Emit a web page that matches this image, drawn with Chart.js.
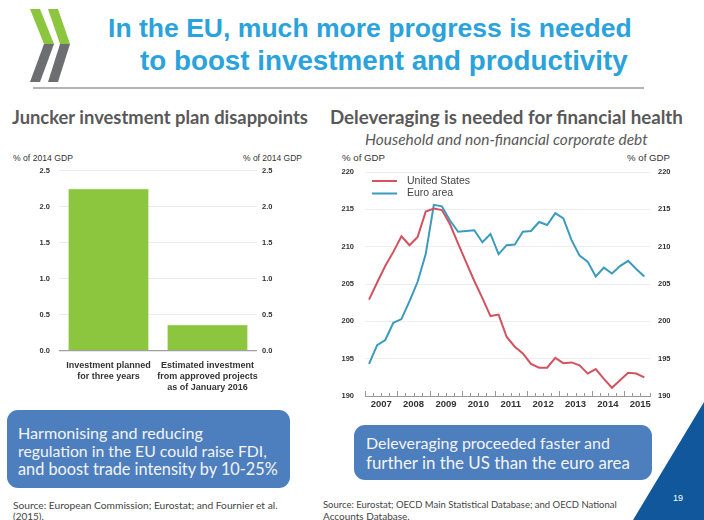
<!DOCTYPE html>
<html>
<head>
<meta charset="utf-8">
<script src="https://cdn.jsdelivr.net/npm/chart.js@4.4.1/dist/chart.umd.min.js"></script>
<style>
  html, body { margin: 0; padding: 0; background: #fff; }
  body { width: 704px; height: 520px; position: relative; overflow: hidden; font-family: 'Liberation Sans', Arial, sans-serif; }
  .t { position: absolute; white-space: nowrap; line-height: 1; transform: translateY(-50%); }
  .title { color: #2aa3dc; font-weight: bold; font-family: 'Liberation Sans', Arial, sans-serif; }
  .sub { color: #595959; font-weight: bold; font-family: Lato, 'Open Sans', sans-serif; }
  .ital { color: #595959; font-style: italic; font-family: Lato, 'Open Sans', sans-serif; }
  .axt { color: #333; font-size: 8.5px; }
  .box { position: absolute; background: #4d7fbf; border-radius: 11px; }
  .boxt { color: #f4f4f4; font-family: Lato, 'Open Sans', sans-serif; }
  .src { color: #444; font-family: Lato, 'Open Sans', sans-serif; }
  canvas { position: absolute; }
</style>
</head>
<body>

<svg style="position:absolute;left:0;top:0" width="704" height="520">
  <polygon points="30,9 40,9 54,44 44,44" fill="#8cc63f"/>
  <polygon points="44,44 54,44 40,82 30,82" fill="#6d6e71"/>
  <polygon points="48,9 58,9 70,44 60,44" fill="#8cc63f"/>
  <polygon points="60,44 70,44 58,82 48,82" fill="#6d6e71"/>
  <line x1="33" y1="88" x2="644" y2="88" stroke="#9a9a9a" stroke-width="1.5"/>
  <polygon points="704,402 704,520 633,520" fill="#10579b"/>
</svg>

<div class="t title" data-fit="524" style="left:108px;top:28px;font-size:26px">In the EU, much more progress is needed</div>
<div class="t title" data-fit="488" style="left:140px;top:61px;font-size:26px">to boost investment and productivity</div>

<div class="t sub" data-fit="296" style="left:12px;top:117px;font-size:16px">Juncker investment plan disappoints</div>
<div class="t sub" data-fit="353" style="left:330px;top:117px;font-size:16px">Deleveraging is needed for financial health</div>
<div class="t ital" data-fit="283" style="left:365px;top:140px;font-size:12px">Household and non-financial corporate debt</div>

<div class="t axt" data-fit="60" style="left:13px;top:158px">% of 2014 GDP</div>
<div class="t axt" data-fit="59" style="left:243px;top:158px">% of 2014 GDP</div>
<div class="t axt" data-fit="43" style="left:342px;top:158px">% of GDP</div>
<div class="t axt" data-fit="43" style="left:627px;top:158px">% of GDP</div>

<canvas id="barChart" width="320" height="250" style="left:0;top:150px"></canvas>
<canvas id="debtChart" width="374" height="270" style="left:330px;top:150px"></canvas>

<div class="box" style="left:7px;top:410px;width:283px;height:78px"></div>
<div class="t boxt" data-fit="185" style="left:18px;top:433px;font-size:17px">Harmonising and reducing</div>
<div class="t boxt" data-fit="249" style="left:18px;top:451px;font-size:17px">regulation in the EU could raise FDI,</div>
<div class="t boxt" data-fit="260" style="left:18px;top:469px;font-size:17px">and boost trade intensity by 10-25%</div>

<div class="box" style="left:354px;top:425px;width:298px;height:55px"></div>
<div class="t boxt" data-fit="244" style="left:366px;top:443px;font-size:18px">Deleveraging proceeded faster and</div>
<div class="t boxt" data-fit="264" style="left:366px;top:463px;font-size:18px">further in the US than the euro area</div>

<div class="t src" data-fit="265" style="left:13px;top:505px;font-size:10px">Source: European Commission; Eurostat; and Fournier et al.</div>
<div class="t src" style="left:13px;top:516px;font-size:10px">(2015).</div>
<div class="t src" data-fit="294" style="left:323px;top:505px;font-size:10px">Source: Eurostat; OECD Main Statistical Database; and OECD National</div>
<div class="t src" style="left:323px;top:516px;font-size:10px">Accounts Database.</div>
<div class="t" style="left:673px;top:498px;font-size:9px;color:#fff">19</div>

<script>
// left chart: Juncker plan
const barCategories = [
    ['Investment planned', 'for three years'],
    ['Estimated investment', 'from approved projects', 'as of January 2016']
];
const barValues = [2.25, 0.36];

// right chart: household and non-financial corporate debt, quarterly
const quarters = [
    '2007Q1', '2007Q2', '2007Q3', '2007Q4', '2008Q1', '2008Q2', '2008Q3', '2008Q4',
    '2009Q1', '2009Q2', '2009Q3', '2009Q4', '2010Q1', '2010Q2', '2010Q3', '2010Q4',
    '2011Q1', '2011Q2', '2011Q3', '2011Q4', '2012Q1', '2012Q2', '2012Q3', '2012Q4',
    '2013Q1', '2013Q2', '2013Q3', '2013Q4', '2014Q1', '2014Q2', '2014Q3', '2014Q4',
    '2015Q1', '2015Q2', '2015Q3'
];
const usDebt = [
    202.9, 205.2, 207.4, 209.3, 211.4, 210.2, 211.3, 214.7,
    215.1, 214.9, 213.0, 210.4, 207.9, 205.4, 203.1, 200.7,
    200.9, 197.9, 196.6, 195.7, 194.3, 193.8, 193.8, 195.1,
    194.4, 194.5, 194.1, 193.0, 193.6, 192.3, 191.1, 192.1,
    193.1, 193.0, 192.5
];
const euroDebt = [
    194.3, 196.8, 197.5, 199.8, 200.3, 202.7, 205.3, 209.0,
    215.6, 215.4, 213.5, 212.0, 212.1, 212.2, 210.6, 211.7,
    209.0, 210.2, 210.3, 212.0, 212.1, 213.3, 212.9, 214.5,
    213.8, 210.9, 208.8, 208.0, 206.0, 207.2, 206.4, 207.4,
    208.1, 207.0, 206.0
];
const seriesNames = ['United States', 'Euro area'];

// stretch text to the widths measured on the slide
document.querySelectorAll('[data-fit]').forEach(el => {
    const target = parseFloat(el.dataset.fit);
    const size = parseFloat(getComputedStyle(el).fontSize);
    el.style.fontSize = (size * target / el.getBoundingClientRect().width) + 'px';
});

Chart.defaults.font.family = "'Liberation Sans', Arial, sans-serif";
Chart.defaults.color = '#333';

const tickFont = { size: 7.5, weight: 'bold' };

function fixWidth(w) {
    return scale => { scale.width = w; };
}
function fixHeight(h) {
    return scale => { scale.height = h; };
}

new Chart(document.getElementById('barChart'), {
    type: 'bar',
    data: {
        labels: barCategories,
        datasets: [{
            data: barValues,
            backgroundColor: '#8cc63e',
            borderColor: '#7fb835',
            borderWidth: 0.5,
            barPercentage: 0.81,
            categoryPercentage: 1
        }]
    },
    options: {
        responsive: false,
        animation: false,
        layout: { padding: { top: 20.7, left: 0, right: 0, bottom: 0 } },
        plugins: { legend: { display: false }, tooltip: { enabled: false } },
        scales: {
            x: {
                grid: { display: false, drawTicks: false },
                border: { display: false },
                ticks: {
                    autoSkip: false,
                    font: { size: 9, weight: 'bold', lineHeight: 1.25 },
                    padding: 9,
                    maxRotation: 0,
                    color: '#333'
                },
                afterFit: fixHeight(49.3)
            },
            y: {
                min: 0, max: 2.5,
                grid: {
                    drawTicks: false,
                    color: ctx => ctx.tick.value === 0 ? '#a0a0a0' : '#ebebeb',
                    lineWidth: ctx => ctx.tick.value === 0 ? 1.2 : 1
                },
                border: { display: false },
                ticks: { stepSize: 0.5, padding: 9, font: tickFont, callback: v => v.toFixed(1) },
                afterFit: fixWidth(59)
            },
            y2: {
                position: 'right',
                display: true,
                min: 0, max: 2.5,
                grid: { drawOnChartArea: false, drawTicks: false },
                border: { display: false },
                ticks: { stepSize: 0.5, padding: 5, font: tickFont, callback: v => v.toFixed(1) },
                afterFit: fixWidth(63)
            }
        }
    }
});

// legend drawn inside the plot, top left
const inlineLegend = {
    id: 'inlineLegend',
    afterDraw(chart) {
        const { ctx, chartArea } = chart;
        ctx.save();
        ctx.font = "10.5px 'Liberation Sans', Arial, sans-serif";
        ctx.textBaseline = 'middle';
        chart.data.datasets.forEach((ds, i) => {
            const y = chartArea.top + 9 + i * 12.5;
            ctx.strokeStyle = ds.borderColor;
            ctx.lineWidth = 2;
            ctx.beginPath();
            ctx.moveTo(chartArea.left + 7, y);
            ctx.lineTo(chartArea.left + 32, y);
            ctx.stroke();
            ctx.fillStyle = '#444';
            ctx.fillText(ds.label, chartArea.left + 42, y);
        });
        ctx.restore();
    }
};

// small quarterly tick marks pointing up from the x axis
const quarterTicks = {
    id: 'quarterTicks',
    afterDraw(chart) {
        const xs = chart.scales.x;
        const ctx = chart.ctx;
        const base = chart.chartArea.bottom;
        ctx.save();
        ctx.strokeStyle = '#999';
        ctx.lineWidth = 1;
        xs.ticks.forEach(t => {
            const px = Math.round(xs.getPixelForValue(t.value)) + 0.5;
            const len = Math.abs(t.value - Math.round(t.value)) < 0.01 ? 5 : 3;
            ctx.beginPath();
            ctx.moveTo(px, base);
            ctx.lineTo(px, base - len);
            ctx.stroke();
        });
        ctx.restore();
    }
};

function quarterPos(q) {
    return parseInt(q.slice(0, 4)) + (parseInt(q.slice(5)) - 0.5) / 4;
}

new Chart(document.getElementById('debtChart'), {
    type: 'line',
    data: {
        datasets: [
            {
                label: seriesNames[0],
                data: quarters.map((q, i) => ({ x: quarterPos(q), y: usDebt[i] })),
                borderColor: '#d2535f',
                borderWidth: 2,
                pointRadius: 0,
                tension: 0
            },
            {
                label: seriesNames[1],
                data: quarters.map((q, i) => ({ x: quarterPos(q), y: euroDebt[i] })),
                borderColor: '#3b9abf',
                borderWidth: 2,
                pointRadius: 0,
                tension: 0
            }
        ]
    },
    plugins: [inlineLegend, quarterTicks],
    options: {
        responsive: false,
        animation: false,
        layout: { padding: { top: 22, left: 0, right: 0, bottom: 0 } },
        plugins: { legend: { display: false }, tooltip: { enabled: false } },
        scales: {
            x: {
                type: 'linear',
                min: 2007, max: 2015.8,
                grid: { drawOnChartArea: false, drawTicks: false },
                border: { display: true, color: '#999' },
                ticks: {
                    stepSize: 0.25,
                    autoSkip: false,
                    maxRotation: 0,
                    padding: 3,
                    font: { size: 9.5, weight: 'bold' },
                    callback: v => Math.abs(v - Math.floor(v) - 0.5) < 0.01 ? String(Math.floor(v)) : ''
                },
                afterFit: fixHeight(24)
            },
            y: {
                min: 190, max: 220,
                grid: { drawTicks: false, color: '#ededed' },
                border: { display: false },
                ticks: { stepSize: 5, padding: 11, font: tickFont },
                afterFit: fixWidth(35)
            },
            y2: {
                position: 'right',
                display: true,
                min: 190, max: 220,
                grid: { drawOnChartArea: false, drawTicks: false },
                border: { display: false },
                ticks: { stepSize: 5, padding: 8, font: tickFont },
                afterFit: fixWidth(54)
            }
        }
    }
});
</script>
</body>
</html>
